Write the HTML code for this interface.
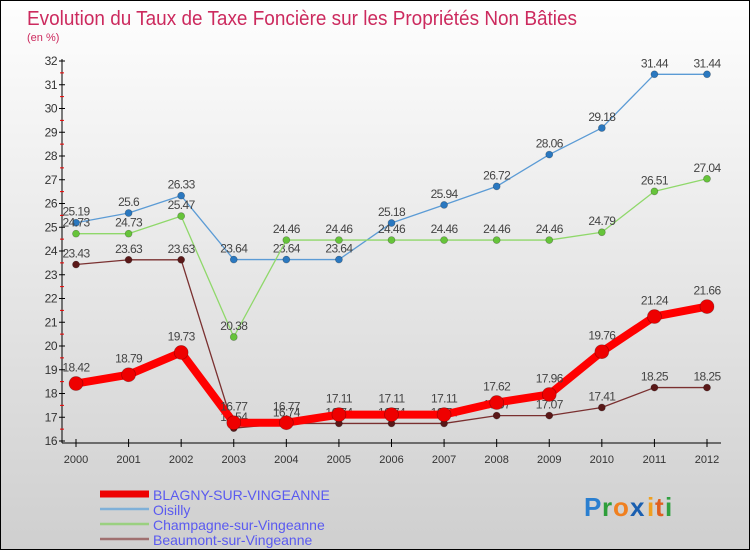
<!DOCTYPE html>
<html><head><meta charset="utf-8">
<style>
html,body{margin:0;padding:0}
body{width:750px;height:550px;overflow:hidden;font-family:"Liberation Sans",sans-serif}
#wrap{position:relative;width:748px;height:548px;border:1px solid #000;background:linear-gradient(#fefefe,#cfcfcf)}
svg{position:absolute;left:0;top:0}
</style></head><body>
<div id="wrap">
<svg id="chart" width="750" height="550">
<text x="26" y="24" font-size="20" fill="#cc2a5e" textLength="550" lengthAdjust="spacingAndGlyphs">Evolution du Taux de Taxe Foncière sur les Propriétés Non Bâties</text>
<text x="26" y="40" font-size="11" fill="#cc2a5e">(en %)</text>
<g id="axes"></g>
<g id="series"></g>
<g id="legend"></g>
<g font-size="26" font-family="Liberation Sans, sans-serif" font-weight="bold">
<text x="583" y="515" fill="#2a7fd0">P</text><text x="601" y="515" fill="#2e9e3a">r</text><text x="612" y="515" fill="#f08020">o</text><text x="629" y="515" fill="#1a5fb0">x</text><text x="646" y="515" fill="#f0a020">i</text><text x="654" y="515" fill="#e06020">t</text><text x="664" y="515" fill="#30a040">i</text>
</g>
</svg>
</div>
<script>
const years=[2000,2001,2002,2003,2004,2005,2006,2007,2008,2009,2010,2011,2012];
const yTicks=[16,17,18,19,20,21,22,23,24,25,26,27,28,29,30,31,32];
const blagny=[18.42,18.79,19.73,16.77,16.77,17.11,17.11,17.11,17.62,17.96,19.76,21.24,21.66];
const oisilly=[25.19,25.6,26.33,23.64,23.64,23.64,25.18,25.94,26.72,28.06,29.18,31.44,31.44];
const champagne=[24.73,24.73,25.47,20.38,24.46,24.46,24.46,24.46,24.46,24.46,24.79,26.51,27.04];
const beaumont=[23.43,23.63,23.63,16.54,16.74,16.74,16.74,16.74,17.07,17.07,17.41,18.25,18.25];
const names=["BLAGNY-SUR-VINGEANNE","Oisilly","Champagne-sur-Vingeanne","Beaumont-sur-Vingeanne"];

const NS="http://www.w3.org/2000/svg";
const x=i=>75+i*(706-75)/(years.length-1);
const y=v=>440-(v-16)*(440-60)/16;
function mk(tag,attrs,parent,txt){const e=document.createElementNS(NS,tag);for(const k in attrs)e.setAttribute(k,attrs[k]);if(txt!==undefined)e.textContent=txt;parent.appendChild(e);return e;}
const axes=document.getElementById('axes');
let a=mk('line',{x1:61,y1:58,x2:61,y2:442,stroke:'#000','stroke-width':1},axes);


a=mk('line',{x1:61,y1:442,x2:720,y2:442,stroke:'#000','stroke-width':1},axes);


yTicks.forEach(t=>{
  mk('line',{x1:58,y1:y(t),x2:64,y2:y(t),stroke:'#000'},axes);
  if(t<32)mk('line',{x1:59,y1:y(t+0.5),x2:63,y2:y(t+0.5),stroke:'#e00'},axes);
  const tx=mk('text',{x:56,y:y(t)+4,'font-size':12,fill:'#333','text-anchor':'end','letter-spacing':'-0.5'},axes,t);
  
  
});
years.forEach((yr,i)=>{
  mk('line',{x1:x(i),y1:438,x2:x(i),y2:446,stroke:'#000'},axes);
  const tx=mk('text',{x:x(i),y:462,'font-size':11,fill:'#333','text-anchor':'middle'},axes,yr);
  
  
});
const series=document.getElementById('series');
const defs=[[oisilly,'#5b9bd5','#2a78c0',1.3,3.5],[champagne,'#8fd86a','#66c43a',1.3,3.5],[beaumont,'#7a3030','#5a1818',1.3,3.5],[blagny,'#ff0000','#ee0000',8,7]];
const order=[names[1],names[2],names[3],names[0]];
defs.forEach((d,si)=>{
  const [vals,lc,pc,w,r]=d;
  const g=mk('g',{},series);
  
  
  const ln=mk('polyline',{points:vals.map((v,i)=>x(i)+','+y(v)).join(' '),fill:'none',stroke:lc,'stroke-width':w,'stroke-linejoin':'round'},g);
  
  
  vals.forEach((v,i)=>{
    const c=mk('circle',{cx:x(i),cy:y(v),r:r,fill:pc,stroke:'rgba(0,0,0,0.3)','stroke-width':0.7},g);
    
    
    const t=mk('text',{x:x(i),y:y(v)-(si==3?12:7),'font-size':12,fill:'#444','text-anchor':'middle','letter-spacing':'-0.6'},g,v);
    
    
  });
});
const lg=document.getElementById('legend');
const lcol=['#ee0000','#7fb0d8','#9ad080','#a07070'];
names.forEach((n,i)=>{
  const g=mk('g',{},lg);
  
  
  const yy=493+i*15;
  mk('line',{x1:99,y1:yy,x2:148,y2:yy,stroke:lcol[i],'stroke-width':i==0?7:2.5},g);
  mk('text',{x:152,y:yy+6,'font-size':14,fill:'#5a5af0'},g,n);
});
</script>
</body></html>
